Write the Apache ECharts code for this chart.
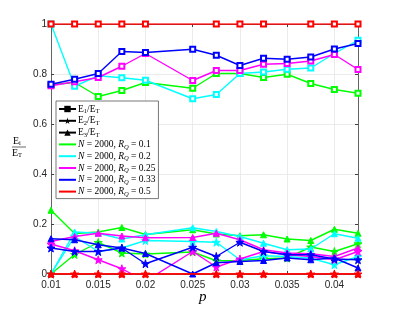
<!DOCTYPE html>
<html><head><meta charset="utf-8">
<script src="https://cdn.jsdelivr.net/npm/echarts@6/dist/echarts.min.js"></script>
<style>html,body{margin:0;padding:0;background:#fff}#c{width:395px;height:312px}</style>
</head><body><div id="c"></div>
<script>
// x values (p)
const pVals = [0.01, 0.0125, 0.015, 0.0175, 0.02, 0.025, 0.0275, 0.03, 0.0325, 0.035, 0.0375, 0.04, 0.0425];
const pRed = [0.01, 0.0125, 0.015, 0.0175, 0.02, 0.0275, 0.03, 0.0325, 0.0375, 0.04, 0.0425];
// E1/ET (squares)
const e1_R01 = [0.757, 0.766, 0.710, 0.734, 0.766, 0.743, 0.802, 0.802, 0.786, 0.799, 0.762, 0.738, 0.723];
const e1_R02 = [1.000, 0.751, 0.793, 0.785, 0.775, 0.701, 0.718, 0.802, 0.808, 0.819, 0.824, 0.882, 0.935];
const e1_R025 = [0.753, 0.769, 0.786, 0.831, 0.882, 0.774, 0.814, 0.814, 0.839, 0.842, 0.852, 0.878, 0.818];
const e1_R033 = [0.759, 0.779, 0.802, 0.890, 0.886, 0.899, 0.875, 0.834, 0.863, 0.859, 0.868, 0.900, 0.922];
const e1_R05 = [1, 1, 1, 1, 1, 1, 1, 1, 1, 1, 1];
// E2/ET (stars)
const e2_R01 = [0, 0.078, 0.126, 0.084, 0.080, 0.088, 0.053, 0.054, 0.061, 0.064, 0.108, 0.090, 0.121];
const e2_R02 = [0, 0.150, 0.090, 0.104, 0.134, 0.130, 0.127, 0.057, 0.073, 0.070, 0.063, 0.037, 0.070];
const e2_R025 = [0.120, 0.093, 0.057, 0.021, -0.029, 0.090, 0.028, 0.060, 0.090, 0.077, 0.070, 0.057, 0.090];
const e2_R033 = [0.104, 0.090, 0.090, 0.104, 0.041, 0.107, 0.070, 0.127, 0.090, 0.077, 0.077, 0.060, 0.057];
const e2_R05 = [0, 0, 0, 0, 0, 0, 0, 0, 0, 0, 0];
// E3/ET (triangles)
const e3_R01 = [0.255, 0.162, 0.168, 0.186, 0.158, 0.177, 0.160, 0.153, 0.157, 0.140, 0.134, 0.179, 0.163];
const e3_R02 = [0, 0.168, 0.163, 0.140, 0.157, 0.185, 0.170, 0.150, 0.123, 0.097, 0.100, 0.161, 0.143];
const e3_R025 = [0.130, 0.150, 0.163, 0.152, 0.145, 0.146, 0.163, 0.137, 0.097, 0.084, 0.081, 0.070, 0.104];
const e3_R033 = [0.141, 0.137, 0.117, 0.104, 0.082, 0, 0.045, 0.050, 0.054, 0.064, 0.057, 0.064, 0.024];
const e3_R05 = [0, 0, 0, 0, 0, 0, 0, 0, 0, 0, 0];
const rqLabels = ['0.1', '0.2', '0.25', '0.33', '0.5'];

const colors = ['#00ff00', '#00ffff', '#ff00ff', '#0000ff', '#ff0000'];
const STAR = 'path://M50,0 L61,35 L98,35 L68,57 L79,91 L50,70 L21,91 L32,57 L2,35 L39,35 Z';
const groups = [
  {sets: [e1_R01, e1_R02, e1_R025, e1_R033, e1_R05], symbol: 'emptyRect', size: 5},
  {sets: [e2_R01, e2_R02, e2_R025, e2_R033, e2_R05], symbol: STAR, size: 8},
  {sets: [e3_R01, e3_R02, e3_R025, e3_R033, e3_R05], symbol: 'triangle', size: 6}
];
const series = [];
groups.forEach((g, gi) => {
  g.sets.forEach((vals, ci) => {
    const xs = ci === 4 ? pRed : pVals;
    series.push({
      name: 's' + gi + '_' + ci, type: 'line', data: vals.map((v, i) => [xs[i], v]),
      symbol: g.symbol, symbolSize: g.size, showSymbol: true, clip: true,
      lineStyle: {color: colors[ci], width: 1.4}, itemStyle: {color: colors[ci], borderColor: colors[ci], borderWidth: 1},
      animation: false, z: 2 + ci
    });
  });
});
// legend dummy series
const legendNames = ['E1', 'E2', 'E3', 'R0', 'R1', 'R2', 'R3', 'R4'];
const legSym = ['rect', STAR, 'triangle'];
const legSize = [5, 9, 6];
for (let k = 0; k < 3; k++) {
  series.push({name: legendNames[k], type: 'line', data: [], symbol: legSym[k], symbolSize: legSize[k],
    lineStyle: {color: '#000', width: 1.4}, itemStyle: {color: '#000'}, animation: false});
}
for (let k = 0; k < 5; k++) {
  series.push({name: legendNames[3 + k], type: 'line', data: [], symbol: 'none',
    lineStyle: {color: colors[k], width: 1.4}, itemStyle: {color: colors[k]}, animation: false});
}
const legendText = {
  E1: '{n|E}{s|1}{n|/E}{s|T}', E2: '{n|E}{s|2}{n|/E}{s|T}', E3: '{n|E}{s|3}{n|/E}{s|T}'
};
rqLabels.forEach((r, k) => { legendText['R' + k] = '{i|N}{n| = 2000, }{i|R}{si|Q}{n| = ' + r + '}'; });
const legendData = legendNames.map((n, k) => k < 3 ? {name: n} : {name: n, itemStyle: {opacity: 0}});

const serif = '"Liberation Serif", "DejaVu Serif", serif';
const sans = '"Liberation Sans", Arial, sans-serif';
const chart = echarts.init(document.getElementById('c'), null, {renderer: 'canvas'});
chart.setOption({
  animation: false,
  backgroundColor: '#fff',
  grid: {left: 51, top: 24, width: 307, height: 250, show: false},
  xAxis: [{
    type: 'value', min: 0.01, max: 0.0425, interval: 0.005,
    axisLine: {show: true, lineStyle: {color: '#404040', width: 0.8}},
    axisTick: {show: true, inside: true, length: 3, lineStyle: {color: '#404040'}},
    axisLabel: {color: '#262626', fontFamily: sans, fontSize: 10, margin: 6, showMaxLabel: false},
    splitLine: {show: true, lineStyle: {color: '#e6e6e6', width: 0.8}}
  }, {
    type: 'value', position: 'top', min: 0.01, max: 0.0425, interval: 0.005,
    axisLine: {show: true, onZero: false, lineStyle: {color: '#404040', width: 0.8}},
    axisTick: {show: true, inside: true, length: 3, lineStyle: {color: '#404040'}},
    axisLabel: {show: false}, splitLine: {show: false}
  }],
  yAxis: [{
    type: 'value', min: 0, max: 1, interval: 0.2,
    axisLine: {show: true, lineStyle: {color: '#404040', width: 0.8}},
    axisTick: {show: true, inside: true, length: 3, lineStyle: {color: '#404040'}},
    axisLabel: {color: '#262626', fontFamily: sans, fontSize: 10, margin: 4},
    splitLine: {show: true, lineStyle: {color: '#e6e6e6', width: 0.8}}
  }, {
    type: 'value', position: 'right', min: 0, max: 1, interval: 0.2,
    axisLine: {show: true, onZero: false, lineStyle: {color: '#404040', width: 0.8}},
    axisTick: {show: true, inside: true, length: 3, lineStyle: {color: '#404040'}},
    axisLabel: {show: false}, splitLine: {show: false}
  }],
  legend: {
    data: legendData, orient: 'vertical', left: 56, top: 101,
    itemWidth: 17, itemHeight: 8, itemGap: -0.2, padding: [2, 3, 1, 2],
    backgroundColor: '#fff', borderColor: '#555', borderWidth: 0.8,
    formatter: name => legendText[name],
    textStyle: {
      fontFamily: serif, fontSize: 9.5, lineHeight: 9, color: '#000', padding: [0, 0, 0, -3],
      rich: {
        n: {fontFamily: serif, fontSize: 9.5, color: '#000', lineHeight: 10},
        i: {fontFamily: serif, fontSize: 9.5, fontStyle: 'italic', color: '#000', lineHeight: 10},
        s: {fontFamily: serif, fontSize: 6.5, color: '#000', lineHeight: 5, padding: [5, 0, 0, 0]},
        si: {fontFamily: serif, fontSize: 6.5, fontStyle: 'italic', color: '#000', lineHeight: 5, padding: [5, 0, 0, 0]}
      }
    }
  },
  graphic: [
    {type: 'text', left: 199, top: 290, style: {text: 'p', font: 'italic 15px ' + serif, fill: '#000'}},
    {type: 'text', left: 13, top: 136, style: {text: '{a|E}{b|i}', rich: {a: {fontFamily: serif, fontSize: 10, fill: '#000'}, b: {fontFamily: serif, fontSize: 6.5, fill: '#000', padding: [4, 0, 0, 0]}}}},
    {type: 'line', shape: {x1: 12, y1: 147, x2: 26, y2: 147}, style: {stroke: '#000', lineWidth: 0.6}},
    {type: 'text', left: 12, top: 148, style: {text: '{a|E}{b|T}', rich: {a: {fontFamily: serif, fontSize: 10, fill: '#000'}, b: {fontFamily: serif, fontSize: 6.5, fill: '#000', padding: [4, 0, 0, 0]}}}}
  ],
  series: series
});
</script></body></html>
